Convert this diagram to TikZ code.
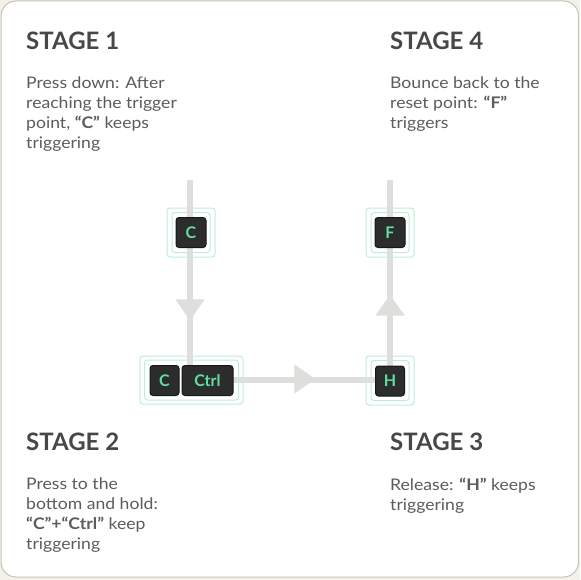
\documentclass[tikz,border=0pt]{standalone}
\usepackage{fontspec}
\setmainfont{Lato}
\newfontfamily\bodyfont[FakeStretch=1.1]{Lato}
\usetikzlibrary{shapes.geometric}
\definecolor{bgout}{HTML}{F3F1EA}
\definecolor{cardedge}{HTML}{C9C3B5}
\definecolor{track}{HTML}{DEDEDC}
\definecolor{keyfill}{HTML}{2B2D2C}
\definecolor{keyedge}{HTML}{161716}
\definecolor{keytext}{HTML}{62DDA0}
\definecolor{glow}{HTML}{BDEFD5}
\definecolor{headc}{HTML}{474747}
\definecolor{bodyc}{HTML}{5C5C5C}
\tikzset{
  keycap/.style={draw=keyedge, line width=1pt, fill=keyfill, rounded corners=3pt,
    minimum height=30pt, text=keytext, font=\bfseries\fontsize{16}{16}\selectfont, inner sep=0pt},
  glowbox/.style={draw=glow, line width=1pt, rounded corners=3pt, fill=none},
  heading/.style={anchor=base west, inner sep=0pt, text=headc, font=\bfseries\fontsize{24}{24}\selectfont},
  bodytxt/.style={anchor=north west, inner sep=0pt, text=bodyc, align=left,
    font=\bodyfont\fontsize{16}{20}\selectfont},
  tri/.style={isosceles triangle, isosceles triangle apex angle=70, fill=track, inner sep=0pt,
    minimum height=21pt, minimum width=22pt},
  trackline/.style={draw=track, line width=6pt}
}
\begin{document}
\begin{tikzpicture}[x=1pt,y=-1pt]
\useasboundingbox (0,0) rectangle (580,580);
\fill[bgout] (0,0) rectangle (580,580);
\draw[cardedge, fill=white, line width=1pt, rounded corners=15pt] (1,1) rectangle (578.5,577);

% track coordinates
\coordinate (top1) at (190,180);
\coordinate (bend) at (190,380);
\coordinate (top4) at (390,180);

% glows
\node[glowbox, minimum width=48pt, minimum height=49pt] (g1o) at (191,232.5) {};
\node[glowbox, minimum width=38pt, minimum height=40pt] (g1i) at (191,232.5) {};
\node[glowbox, minimum width=48pt, minimum height=49pt] (g4o) at (390,232.5) {};
\node[glowbox, minimum width=38pt, minimum height=40pt] (g4i) at (390,232.5) {};
\node[glowbox, minimum width=48pt, minimum height=49pt] (g3o) at (390,380.5) {};
\node[glowbox, minimum width=38pt, minimum height=40pt] (g3i) at (390,380.5) {};
\node[glowbox, minimum width=103pt, minimum height=48pt] (g2o) at (191.5,380) {};
\node[glowbox, minimum width=94pt, minimum height=40pt] (g2i) at (191.5,380) {};

% tracks
\draw[trackline] (top1) -- (bend) -- (top4 |- bend) -- (top4);

% arrows
\node[tri, shape border rotate=-90] (a1) at (190,307) {};
\node[tri, shape border rotate=0] (a2) at (302,379) {};
\node[tri, shape border rotate=90] (a3) at (390,308) {};

% keys
\node[keycap, minimum width=30pt] (kc1) at (191,232.5) {C};
\node[keycap, minimum width=30pt] (kf) at (390,232.5) {F};
\node[keycap, minimum width=29pt] (kh) at (390,381) {H};
\node[keycap, minimum width=29pt] (kc2) at (164.5,380.5) {C};
\node[keycap, minimum width=51pt] (kctrl) at (207.5,380.5) {Ctrl};

% texts
\node[heading] (h1) at (26,50) {STAGE 1};
\node[heading] (h4) at (390,50) {STAGE 4};
\node[heading] (h2) at (26,450) {STAGE 2};
\node[heading] (h3) at (390,450) {STAGE 3};

\node[bodytxt] (b1) at (26,77) {Press down: After\\reaching the trigger\\point, \textbf{“C”} keeps\\triggering};
\node[bodytxt] (b4) at (390,77) {Bounce back to the\\reset point: \textbf{“F”}\\triggers};
\node[bodytxt] (b2) at (26,478) {Press to the\\bottom and hold:\\\textbf{“C”+“Ctrl”} keep\\triggering};
\node[bodytxt] (b3) at (390,478) {Release: \textbf{“H”} keeps\\triggering};
\end{tikzpicture}
\end{document}
